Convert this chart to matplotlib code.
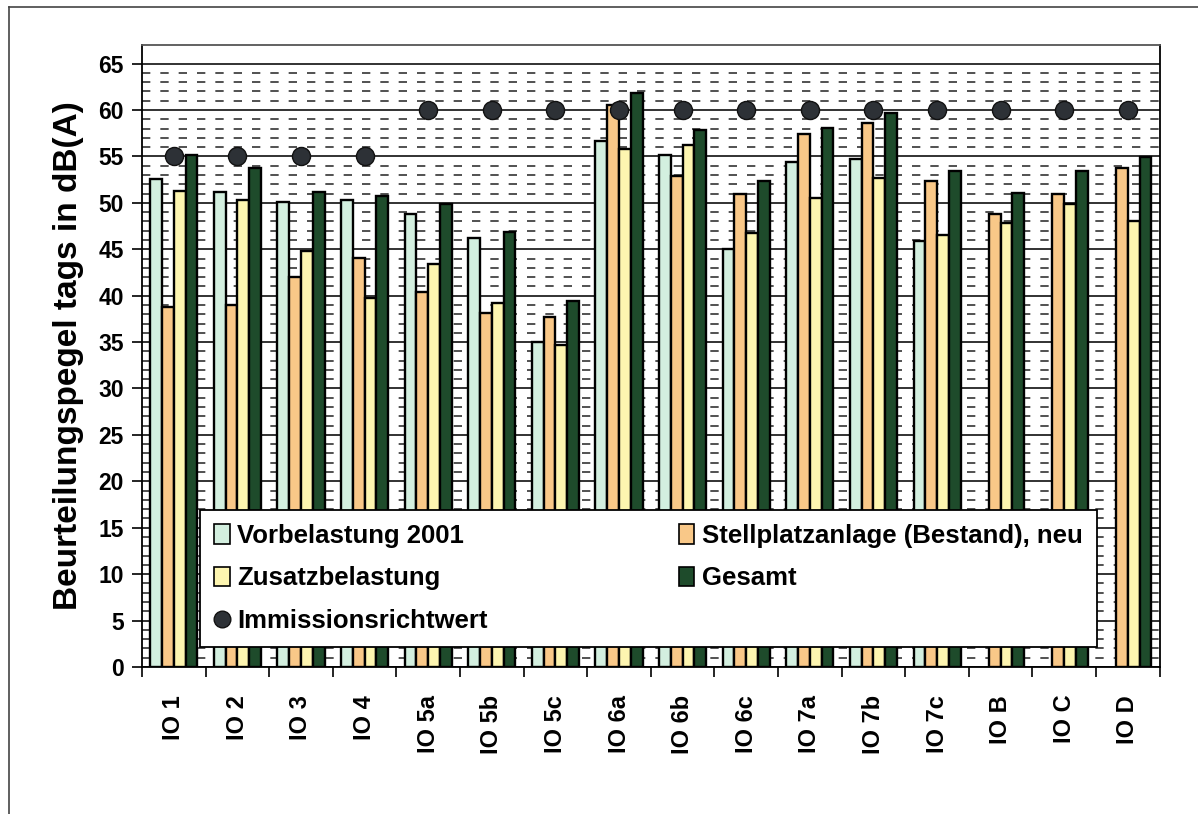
import numpy as np
import matplotlib
matplotlib.use("Agg")
import matplotlib.pyplot as plt
from matplotlib.lines import Line2D
from matplotlib.patches import Patch

plt.rcParams['font.family'] = ['Liberation Sans', 'DejaVu Sans']
plt.rcParams['font.weight'] = 'bold'

# values (dB(A))
categories = ["IO 1", "IO 2", "IO 3", "IO 4", "IO 5a", "IO 5b", "IO 5c", "IO 6a",
              "IO 6b", "IO 6c", "IO 7a", "IO 7b", "IO 7c", "IO B", "IO C", "IO D"]
vorbelastung = [52.6, 51.2, 50.1, 50.3, 48.8, 46.2, 35.0, 56.7, 55.1, 45.0, 54.4, 54.7,
                45.9, np.nan, np.nan, np.nan]
stellplatz = [38.8, 39.0, 42.0, 44.1, 40.4, 38.1, 37.7, 60.5, 52.9, 51.0, 57.4, 58.6,
              52.4, 48.8, 50.9, 53.8]
zusatz = [51.3, 50.3, 44.8, 39.8, 43.4, 39.2, 34.7, 55.8, 56.2, 46.7, 50.5, 52.7,
          46.5, 47.8, 49.9, 48.0]
gesamt = [55.1, 53.8, 51.2, 50.7, 49.9, 46.9, 39.4, 61.8, 57.8, 52.4, 58.1, 59.7,
          53.4, 51.1, 53.4, 54.9]
richtwert = [55, 55, 55, 55, 60, 60, 60, 60, 60, 60, 60, 60, 60, 60, 60, 60]

series_labels = ["Vorbelastung 2001", "Stellplatzanlage (Bestand), neu",
                 "Zusatzbelastung", "Gesamt"]
colors = ["#d3efdf", "#f9c888", "#fdf5b0", "#1e4b2b"]

fig = plt.figure(figsize=(11.98, 8.14), dpi=100)
ax = fig.add_axes([0.1185, 0.1806, 0.8495, 0.7641])

x = np.arange(len(categories))
w = 0.185
series = [vorbelastung, stellplatz, zusatz, gesamt]
for i, vals in enumerate(series):
    ax.bar(x + (i - 1.5) * w, vals, width=w, color=colors[i], edgecolor="black",
           linewidth=1.7, zorder=3)

ax.plot(x, richtwert, linestyle="none", marker="o", markersize=13,
        markerfacecolor="#2d3136", markeredgecolor="#111111", zorder=5)

ax.set_ylim(0, 67)
ax.set_xlim(-0.5, len(categories) - 0.5)

# grid: solid every 5 dB, dashed every 1 dB
ax.set_yticks(np.arange(0, 66, 5))
ax.set_yticks(np.arange(0, 66, 1), minor=True)
ax.grid(axis="y", which="major", color="#222222", linewidth=1.3, zorder=1)
ax.grid(axis="y", which="minor", color="#333333", linewidth=1.2,
        linestyle=(0, (5, 6)), zorder=1)
ax.set_axisbelow(True)
ax.tick_params(axis="y", which="minor", length=0)
ax.tick_params(axis="y", which="major", length=7, width=1.2, labelsize=16.5, pad=6)

ax.set_xticks(x)
ax.set_xticklabels(categories, rotation=90, fontsize=17, fontweight="bold")
ax.set_xticks(np.arange(-0.5, len(categories)), minor=True)
ax.tick_params(axis="x", which="major", length=0, pad=20)
ax.tick_params(axis="x", which="minor", length=7, width=1.2)

for lbl in ax.get_yticklabels():
    lbl.set_fontweight("bold")

for s in ax.spines.values():
    s.set_linewidth(1.3)
    s.set_color("black")
ax.spines["top"].set_color("#555555")

ax.set_ylabel("Beurteilungspegel tags in dB(A)", fontsize=24, fontweight="bold",
              labelpad=10)

handles = [Patch(facecolor=colors[0], edgecolor="black", linewidth=1.2),
           Patch(facecolor=colors[2], edgecolor="black", linewidth=1.2),
           Line2D([], [], linestyle="none", marker="o", markersize=12,
                  markerfacecolor="#2d3136", markeredgecolor="#111111"),
           Patch(facecolor=colors[1], edgecolor="black", linewidth=1.2),
           Patch(facecolor=colors[3], edgecolor="black", linewidth=1.2)]
labels = [series_labels[0], series_labels[2], "Immissionsrichtwert",
          series_labels[1], series_labels[3]]
leg = ax.legend(handles, labels, ncol=2, loc="lower left",
                bbox_to_anchor=(0.057, 0.032, 0.881, 0.212), mode="expand",
                fancybox=False, framealpha=1, edgecolor="black",
                prop={"size": 18.5, "weight": "bold"}, handlelength=0.6,
                handleheight=0.8, handletextpad=0.3, labelspacing=0.72,
                borderpad=0.55, borderaxespad=0)
leg.get_frame().set_linewidth(1.3)
leg.set_zorder(6)

# outer scan border
fig.add_artist(Line2D([9 / 1198, 1], [1 - 7 / 814, 1 - 7 / 814], color="#444444", lw=1.2))
fig.add_artist(Line2D([9 / 1198, 9 / 1198], [0, 1 - 7 / 814], color="#444444", lw=1.2))

fig.savefig("out.png", dpi=100)
